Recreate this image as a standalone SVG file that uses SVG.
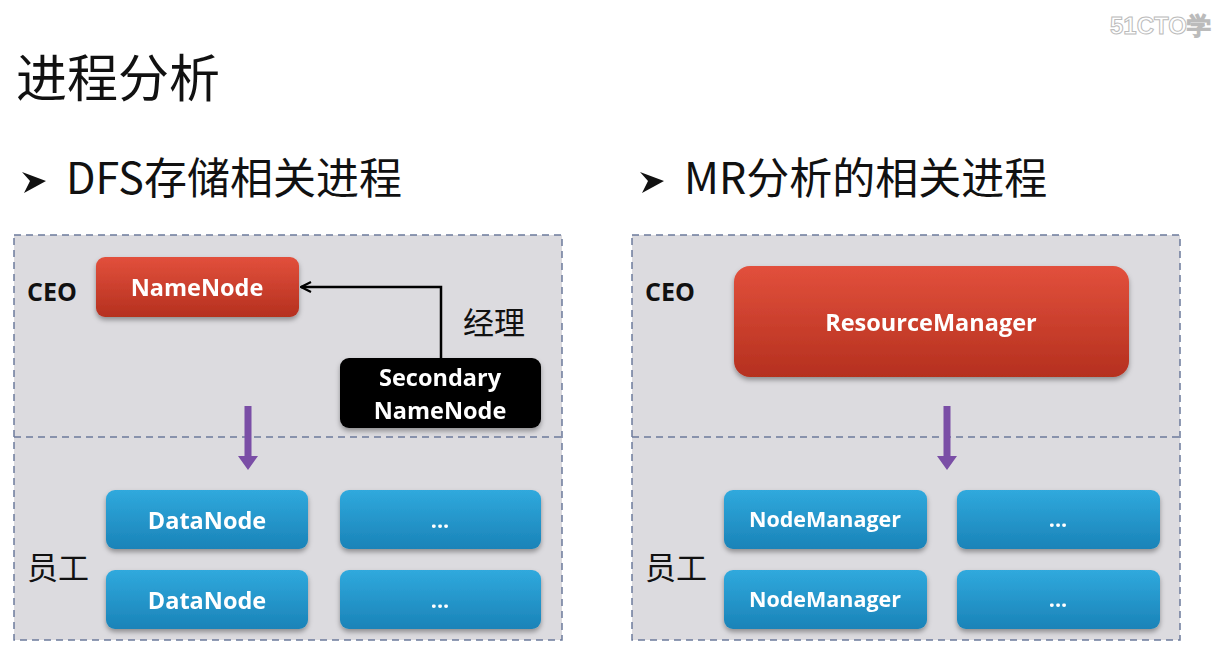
<svg xmlns="http://www.w3.org/2000/svg" width="1216" height="658" viewBox="0 0 1216 658">
<defs>
<linearGradient id="red" x1="0" y1="0" x2="0" y2="1"><stop offset="0" stop-color="#e2503c"/><stop offset="1" stop-color="#b5301f"/></linearGradient>
<linearGradient id="blue" x1="0" y1="0" x2="0" y2="1"><stop offset="0" stop-color="#30a9dd"/><stop offset="1" stop-color="#1a83b8"/></linearGradient>
<filter id="sh" x="-10%" y="-10%" width="120%" height="130%"><feDropShadow dx="0" dy="3" stdDeviation="2.5" flood-color="#000" flood-opacity="0.35"/></filter>
<marker id="open" viewBox="0 0 12 12" refX="11" refY="6" markerWidth="12" markerHeight="12" markerUnits="userSpaceOnUse" orient="auto"><path d="M1,1 L11,6 L1,11" fill="none" stroke="#000" stroke-width="2.2"/></marker>
</defs>
<style>
.panel{fill:#dcdbdf;stroke:#6c7b9c;stroke-width:1.5;stroke-dasharray:7 5}
.div{stroke:#6c7b9c;stroke-width:1.5;stroke-dasharray:7 5}
.lbl{font-family:"Open Sans","Liberation Sans",sans-serif;font-weight:bold;fill:#fff;text-anchor:middle;font-size:23.5px}
.sm{font-size:21.5px}
.cn{font-family:"Noto Sans CJK SC",sans-serif;fill:#111}
.ceo{font-family:"Open Sans","Liberation Sans",sans-serif;font-weight:bold;font-size:25px;fill:#111}
.purp{fill:#7a4ea6}
</style>
<rect width="1216" height="658" fill="#fff"/>
<text x="1110" y="34" font-family="Liberation Sans,sans-serif" font-weight="bold" font-size="24" fill="#fff" stroke="#bbb" stroke-width="1">51CTO学</text>
<text x="16" y="97" class="cn" font-size="51">进程分析</text>
<g id="bullet1">
<path d="M22,172 L46,181 L24,193 L30,181 Z" fill="#111"/>
<text x="66" y="194" class="cn" font-size="43">DFS存储相关进程</text>
</g>
<g id="bullet2">
<path d="M640,172 L664,181 L642,193 L648,181 Z" fill="#111"/>
<text x="684" y="194" class="cn" font-size="43">MR分析的相关进程</text>
</g>
<g id="panelL">
<rect class="panel" x="14" y="235" width="548" height="405"/>
<line class="div" x1="14" y1="437" x2="562" y2="437"/>
<text class="ceo" x="27" y="301">CEO</text>
<text class="cn" x="27" y="579" font-size="31">员工</text>
<text class="cn" x="463" y="334" font-size="31">经理</text>
</g>
<g id="panelR">
<rect class="panel" x="632" y="235" width="548" height="405"/>
<line class="div" x1="632" y1="437" x2="1180" y2="437"/>
<text class="ceo" x="645" y="301">CEO</text>
<text class="cn" x="645" y="579" font-size="31">员工</text>
</g>
<g id="connectors">
<path d="M441,358 L441,287 L301,287" fill="none" stroke="#000" stroke-width="2.5" marker-end="url(#open)"/>
<path class="purp" d="M244.5,406 H251.5 V456 H258 L248,470 L238,456 H244.5 Z"/>
<path class="purp" d="M943.5,406 H950.5 V456 H957 L947,470 L937,456 H943.5 Z"/>
</g>
<g id="namenode" filter="url(#sh)"><rect x="96" y="257" width="203" height="60" rx="9" fill="url(#red)"/><text class="lbl" x="197" y="296">NameNode</text></g>
<g id="secondary" filter="url(#sh)"><rect x="340" y="358" width="201" height="70" rx="9" fill="#000"/><text class="lbl" x="440" y="386">Secondary</text><text class="lbl" x="440" y="419">NameNode</text></g>
<g id="datanode1" filter="url(#sh)"><rect x="106" y="490" width="202" height="59" rx="9" fill="url(#blue)"/><text class="lbl" x="207" y="529">DataNode</text></g>
<g id="datanode2" filter="url(#sh)"><rect x="106" y="570" width="202" height="59" rx="9" fill="url(#blue)"/><text class="lbl" x="207" y="609">DataNode</text></g>
<g id="dotsL1" filter="url(#sh)"><rect x="340" y="490" width="201" height="59" rx="9" fill="url(#blue)"/><text class="lbl sm" x="440" y="528">...</text></g>
<g id="dotsL2" filter="url(#sh)"><rect x="340" y="570" width="201" height="59" rx="9" fill="url(#blue)"/><text class="lbl sm" x="440" y="608">...</text></g>
<g id="resourcemanager" filter="url(#sh)"><rect x="734" y="266" width="395" height="111" rx="16" fill="url(#red)"/><text class="lbl" x="931" y="331">ResourceManager</text></g>
<g id="nodemanager1" filter="url(#sh)"><rect x="724" y="490" width="203" height="59" rx="9" fill="url(#blue)"/><text class="lbl sm" x="825" y="527">NodeManager</text></g>
<g id="nodemanager2" filter="url(#sh)"><rect x="724" y="570" width="203" height="59" rx="9" fill="url(#blue)"/><text class="lbl sm" x="825" y="607">NodeManager</text></g>
<g id="dotsR1" filter="url(#sh)"><rect x="957" y="490" width="203" height="59" rx="9" fill="url(#blue)"/><text class="lbl sm" x="1058" y="527">...</text></g>
<g id="dotsR2" filter="url(#sh)"><rect x="957" y="570" width="203" height="59" rx="9" fill="url(#blue)"/><text class="lbl sm" x="1058" y="607">...</text></g>
</svg>
